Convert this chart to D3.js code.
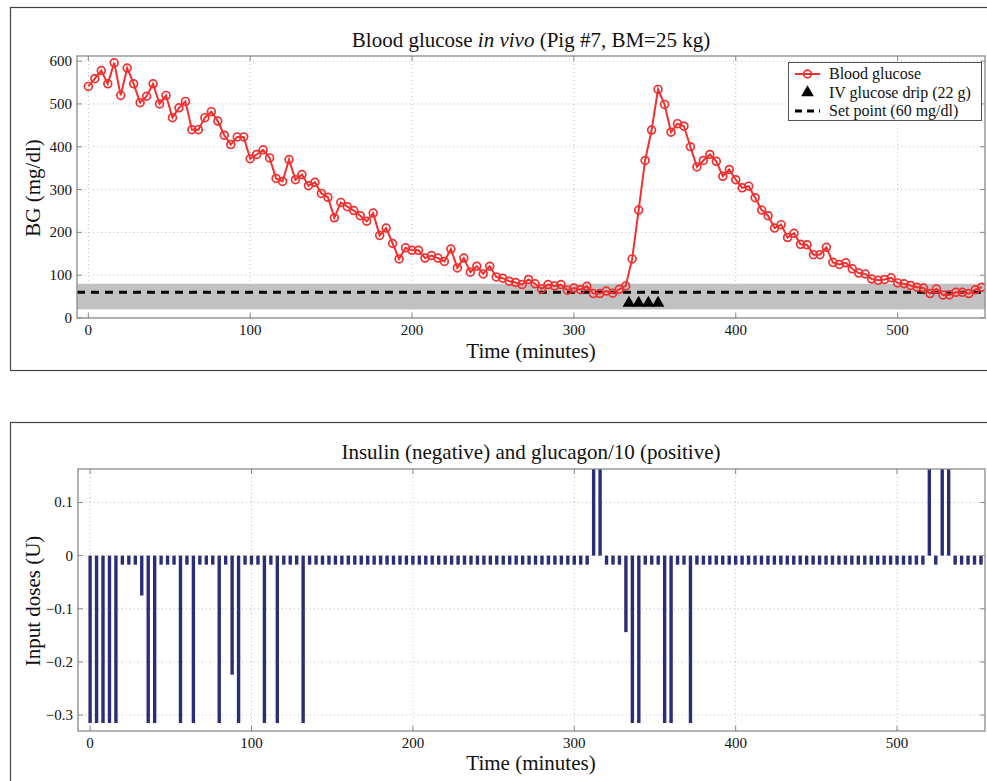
<!DOCTYPE html>
<html>
<head>
<meta charset="utf-8">
<script src="https://cdn.jsdelivr.net/npm/d3@7/dist/d3.min.js"></script>
<style>
  html, body { margin: 0; padding: 0; background: #fff; }
  svg { display: block; }
  text { font-family: "Liberation Serif", "DejaVu Serif", serif; fill: #111; }
</style>
</head>
<body>
<svg id="chart" width="987" height="781"></svg>
<script>
// ---------------- DATA ----------------
const times = [0,4,8,12,16,20,24,28,32,36,40,44,48,52,56,60,64,68,72,76,80,84,88,92,96,100,104,108,112,116,
  120,124,128,132,136,140,144,148,152,156,160,164,168,172,176,180,184,188,192,196,200,204,208,212,216,220,224,228,232,236,
  240,244,248,252,256,260,264,268,272,276,280,284,288,292,296,300,304,308,312,316,320,324,328,332,336,340,344,348,352,356,
  360,364,368,372,376,380,384,388,392,396,400,404,408,412,416,420,424,428,432,436,440,444,448,452,456,460,464,468,472,476,
  480,484,488,492,496,500,504,508,512,516,520,524,528,532,536,540,544,548,552];

const bloodGlucose = [541,559,578,547,596,520,584,547,503,518,547,500,520,468,491,506,440,440,468,482,460,427,405,423,423,372,382,393,374,326,
  319,370,323,335,309,317,291,282,234,270,260,251,239,226,245,193,210,174,138,164,158,158,140,146,140,132,161,117,140,107,
  121,103,121,96,93,86,83,78,90,80,68,78,75,78,65,70,66,74,57,57,63,58,67,75,138,252,368,439,534,499,
  434,454,448,400,353,368,382,366,331,347,323,304,308,281,252,239,210,218,188,198,172,171,148,148,165,130,125,129,115,105,
  103,91,88,90,94,82,80,76,72,70,57,68,54,54,60,60,57,66,72];

// insulin (negative) and glucagon/10 (positive) doses, one per sample time
const doses = [-0.315,-0.315,-0.315,-0.315,-0.315,-0.017,-0.017,-0.017,-0.075,-0.315,-0.315,-0.017,-0.017,-0.017,-0.315,-0.017,-0.315,-0.017,-0.017,-0.017,
  -0.315,-0.017,-0.224,-0.315,-0.017,-0.017,-0.017,-0.315,-0.017,-0.315,-0.017,-0.017,-0.017,-0.315,-0.017,-0.017,-0.017,-0.017,-0.017,-0.017,
  -0.017,-0.017,-0.017,-0.017,-0.017,-0.017,-0.017,-0.017,-0.017,-0.017,-0.017,-0.017,-0.017,-0.017,-0.017,-0.017,-0.017,-0.017,-0.017,-0.017,
  -0.017,-0.017,-0.017,-0.017,-0.017,-0.017,-0.017,-0.017,-0.017,-0.017,-0.017,-0.017,-0.017,-0.017,-0.017,-0.017,-0.017,-0.017,0.163,0.163,
  -0.017,-0.017,-0.017,-0.144,-0.315,-0.315,-0.017,-0.017,-0.017,-0.315,-0.315,-0.017,-0.017,-0.315,-0.017,-0.017,-0.017,-0.017,-0.017,-0.017,
  -0.017,-0.017,-0.017,-0.017,-0.017,-0.017,-0.017,-0.017,-0.017,-0.017,-0.017,-0.017,-0.017,-0.017,-0.017,-0.017,-0.017,-0.017,-0.017,-0.017,
  -0.017,-0.017,-0.017,-0.017,-0.017,-0.017,-0.017,-0.017,-0.017,-0.017,0.163,-0.017,0.163,0.163,-0.017,-0.017,-0.017,-0.017,-0.017];

const dripTimes = [334, 340, 346, 352];
const dripLevel = 35;
const setPoint = 60;
const bandRange = [20, 80];

const xTicks = [0, 100, 200, 300, 400, 500];
const bgTicks = [0, 100, 200, 300, 400, 500, 600];
const doseTicks = [-0.3, -0.2, -0.1, 0, 0.1];

const titleTop = "Blood glucose ";
const titleTopItalic = "in vivo";
const titleTopRest = " (Pig #7, BM=25 kg)";
const titleBottom = "Insulin (negative) and glucagon/10 (positive)";
const xLabel = "Time (minutes)";
const yLabelTop = "BG (mg/dl)";
const yLabelBottom = "Input doses (U)";
const legendLabels = ["Blood glucose", "IV glucose drip (22 g)", "Set point (60 mg/dl)"];

// ---------------- DRAW ----------------
const svg = d3.select("#chart");
const RED = "#f23030";
const NAVY = "#2a2e78";
const BOX = "#8a8a8a";

// outer panel frames
svg.append("rect").attr("x", 10.5).attr("y", 7.5).attr("width", 1000).attr("height", 363)
  .attr("fill", "none").attr("stroke", "#444").attr("stroke-width", 1.2);
svg.append("rect").attr("x", 10.5).attr("y", 422.5).attr("width", 1000).attr("height", 400)
  .attr("fill", "none").attr("stroke", "#444").attr("stroke-width", 1.2);

function drawGrid(g, x, y, ticksX, ticksY, L, R, T, B) {
  g.selectAll(".gx").data(ticksX).join("line")
    .attr("x1", d => x(d)).attr("x2", d => x(d)).attr("y1", T).attr("y2", B)
    .attr("stroke", "#bdbdbd").attr("stroke-width", 1).attr("stroke-dasharray", "1,3");
  g.selectAll(".gy").data(ticksY).join("line")
    .attr("x1", L).attr("x2", R).attr("y1", d => y(d)).attr("y2", d => y(d))
    .attr("stroke", "#bdbdbd").attr("stroke-width", 1).attr("stroke-dasharray", "1,3");
}

function drawAxes(g, x, y, ticksX, ticksY, fmtY, L, R, T, B) {
  g.append("rect").attr("x", L).attr("y", T).attr("width", R - L).attr("height", B - T)
    .attr("fill", "none").attr("stroke", BOX).attr("stroke-width", 1.3);
  const tk = 5;
  ticksX.forEach(d => {
    g.append("line").attr("x1", x(d)).attr("x2", x(d)).attr("y1", B).attr("y2", B - tk).attr("stroke", BOX);
    g.append("line").attr("x1", x(d)).attr("x2", x(d)).attr("y1", T).attr("y2", T + tk).attr("stroke", BOX);
  });
  ticksY.forEach(d => {
    g.append("line").attr("x1", L).attr("x2", L + tk).attr("y1", y(d)).attr("y2", y(d)).attr("stroke", BOX);
    g.append("line").attr("x1", R).attr("x2", R - tk).attr("y1", y(d)).attr("y2", y(d)).attr("stroke", BOX);
  });
  g.selectAll(".xl").data(ticksX).join("text")
    .attr("x", d => x(d)).attr("y", B + 16.5).attr("text-anchor", "middle")
    .attr("font-size", 15).text(d => d);
  g.selectAll(".yl").data(ticksY).join("text")
    .attr("x", L - 5).attr("y", d => y(d) + 5).attr("text-anchor", "end")
    .attr("font-size", 15).text(d => fmtY(d));
}

// ---- Top chart ----
{
  const L = 77, R = 985, T = 56, B = 318;
  const x = d3.scaleLinear().domain([-7, 554]).range([L, R]);
  const y = d3.scaleLinear().domain([0, 612]).range([B, T]);
  const g = svg.append("g");
  const defs = svg.append("defs");
  defs.append("clipPath").attr("id", "clipTop").append("rect")
    .attr("x", L).attr("y", T).attr("width", R - L).attr("height", B - T);

  g.append("rect").attr("x", L).attr("width", R - L)
    .attr("y", y(bandRange[1])).attr("height", y(bandRange[0]) - y(bandRange[1]))
    .attr("fill", "#c2c2c2");
  drawGrid(g, x, y, xTicks, bgTicks, L, R, T, B);

  g.append("line").attr("x1", L).attr("x2", R).attr("y1", y(setPoint)).attr("y2", y(setPoint))
    .attr("stroke", "#000").attr("stroke-width", 3).attr("stroke-dasharray", "8,6");

  const pts = times.map((t, i) => [t, bloodGlucose[i]]);
  const pg = g.append("g").attr("clip-path", "url(#clipTop)");
  pg.append("path").datum(pts)
    .attr("d", d3.line().x(d => x(d[0])).y(d => y(d[1])))
    .attr("fill", "none").attr("stroke", RED).attr("stroke-width", 2);
  pg.selectAll(".pt").data(pts).join("circle")
    .attr("cx", d => x(d[0])).attr("cy", d => y(d[1])).attr("r", 3.9)
    .attr("fill", "none").attr("stroke", RED).attr("stroke-width", 1.7);

  const tri = d3.symbol().type(d3.symbolTriangle).size(70);
  g.selectAll(".tri").data(dripTimes).join("path")
    .attr("d", tri).attr("transform", d => `translate(${x(d)},${y(dripLevel)})`)
    .attr("fill", "#000");

  drawAxes(g, x, y, xTicks, bgTicks, d => d, L, R, T, B);

  const tt = svg.append("text").attr("x", 531).attr("y", 47).attr("text-anchor", "middle").attr("font-size", 21);
  tt.append("tspan").text(titleTop);
  tt.append("tspan").attr("font-style", "italic").text(" " + titleTopItalic);
  tt.append("tspan").text(titleTopRest);

  svg.append("text").attr("x", 531).attr("y", 357.5).attr("text-anchor", "middle").attr("font-size", 21).text(xLabel);
  svg.append("text").attr("transform", "translate(40,188) rotate(-90)").attr("text-anchor", "middle")
    .attr("font-size", 21).text(yLabelTop);

  // legend
  const lg = svg.append("g");
  lg.append("rect").attr("x", 788.5).attr("y", 62.5).attr("width", 193).attr("height", 58)
    .attr("fill", "#fff").attr("stroke", "#555").attr("stroke-width", 1);
  const ly = [74, 92.5, 111];
  lg.append("line").attr("x1", 795).attr("x2", 820).attr("y1", ly[0]).attr("y2", ly[0]).attr("stroke", RED).attr("stroke-width", 2);
  lg.append("circle").attr("cx", 807.5).attr("cy", ly[0]).attr("r", 3.9).attr("fill", "none").attr("stroke", RED).attr("stroke-width", 1.7);
  lg.append("path").attr("d", tri).attr("transform", `translate(807.5,${ly[1]})`).attr("fill", "#000");
  lg.append("line").attr("x1", 795).attr("x2", 820).attr("y1", ly[2]).attr("y2", ly[2]).attr("stroke", "#000").attr("stroke-width", 3).attr("stroke-dasharray", "7,5");
  lg.selectAll(".lt").data(legendLabels).join("text")
    .attr("x", 829).attr("y", (d, i) => ly[i] + 5).attr("font-size", 16).text(d => d);
}

// ---- Bottom chart ----
{
  const L = 78, R = 985, T = 469, B = 731;
  const x = d3.scaleLinear().domain([-7.5, 554.5]).range([L, R]);
  const y = d3.scaleLinear().domain([-0.33, 0.163]).range([B, T]);
  const g = svg.append("g");
  drawGrid(g, x, y, xTicks, doseTicks, L, R, T, B);

  const bw = x(2.1) - x(0);
  const bars = times.map((t, i) => [t, doses[i]]);
  g.selectAll(".bar").data(bars).join("rect")
    .attr("x", d => x(d[0]) - bw / 2).attr("width", bw)
    .attr("y", d => y(Math.max(0, d[1])))
    .attr("height", d => Math.abs(y(d[1]) - y(0)))
    .attr("fill", NAVY);

  const fmt = d => d === 0 ? "0" : (d < 0 ? "\u2212" + Math.abs(d) : "" + d);
  drawAxes(g, x, y, xTicks, doseTicks, fmt, L, R, T, B);

  svg.append("text").attr("x", 531).attr("y", 459).attr("text-anchor", "middle").attr("font-size", 21).text(titleBottom);
  svg.append("text").attr("x", 531).attr("y", 769.5).attr("text-anchor", "middle").attr("font-size", 21).text(xLabel);
  svg.append("text").attr("transform", "translate(40,601) rotate(-90)").attr("text-anchor", "middle")
    .attr("font-size", 21).text(yLabelBottom);
}
</script>
</body>
</html>
